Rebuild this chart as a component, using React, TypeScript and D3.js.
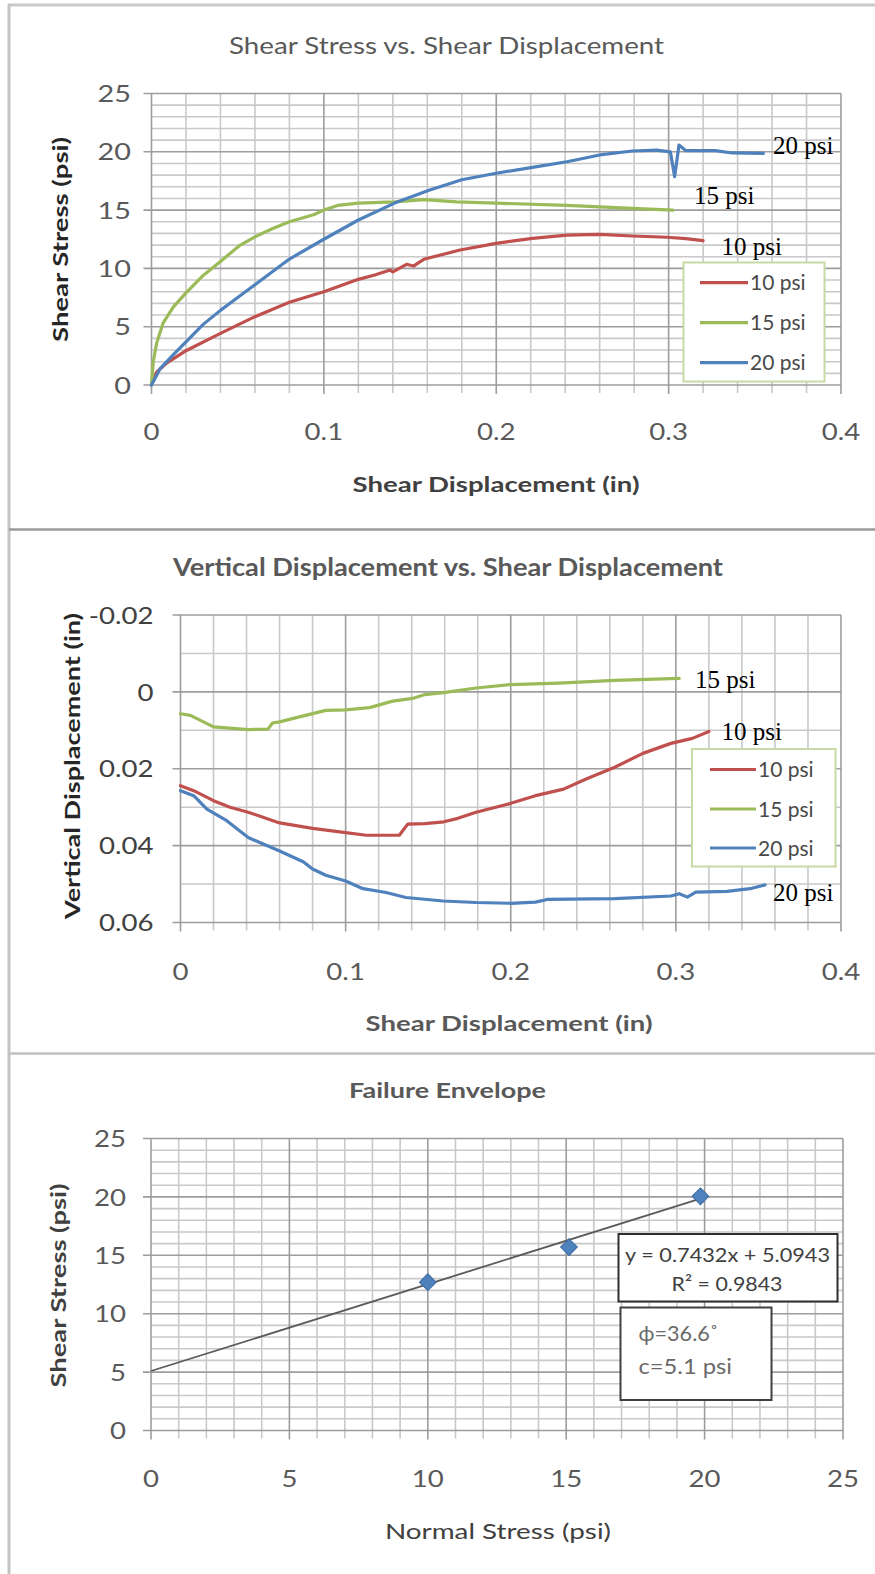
import React from 'react';
import * as d3 from 'd3';

// ---------- Panel 1: Shear Stress vs. Shear Displacement ----------
const shear10X = [0, 0.003, 0.009, 0.02, 0.04, 0.06, 0.08, 0.1, 0.12, 0.1295, 0.1385, 0.140, 0.148, 0.152, 0.155, 0.158, 0.179, 0.2, 0.221, 0.241, 0.26, 0.279, 0.299, 0.31, 0.32];
const shear10Y = [0, 1.1, 1.9, 2.94, 4.43, 5.86, 7.1, 8.0, 9.06, 9.43, 9.86, 9.7, 10.35, 10.2, 10.5, 10.78, 11.58, 12.15, 12.58, 12.86, 12.92, 12.78, 12.67, 12.55, 12.38];

const shear15X = [0, 0.001, 0.003, 0.0067, 0.0127, 0.02, 0.03, 0.04, 0.051, 0.06, 0.07, 0.08, 0.094, 0.1, 0.108, 0.12, 0.141, 0.158, 0.177, 0.2, 0.241, 0.279, 0.3025];
const shear15Y = [0, 2.0, 3.6, 5.3, 6.7, 7.9, 9.4, 10.6, 11.95, 12.7, 13.4, 14.0, 14.6, 15.0, 15.4, 15.6, 15.7, 15.9, 15.7, 15.6, 15.4, 15.15, 15.0];

const shear20X = [0, 0.005, 0.0127, 0.02, 0.03, 0.04, 0.05, 0.06, 0.08, 0.1, 0.12, 0.141, 0.161, 0.18, 0.2, 0.221, 0.241, 0.26, 0.279, 0.293, 0.301, 0.3035, 0.306, 0.31, 0.327, 0.337, 0.355];
const shear20Y = [0, 1.4, 2.6, 3.7, 5.2, 6.4, 7.5, 8.6, 10.8, 12.5, 14.15, 15.6, 16.7, 17.6, 18.16, 18.67, 19.15, 19.73, 20.07, 20.15, 20.0, 17.87, 20.58, 20.1, 20.1, 19.9, 19.87];

// ---------- Panel 2: Vertical Displacement vs. Shear Displacement ----------
const vert10X = [0, 0.008, 0.02, 0.03, 0.041, 0.06, 0.08, 0.1, 0.1125, 0.1325, 0.1376, 0.148, 0.1594, 0.168, 0.179, 0.2, 0.215, 0.232, 0.246, 0.263, 0.28, 0.297, 0.31, 0.32];
const vert10Y = [0.0244, 0.0257, 0.0283, 0.030, 0.0313, 0.0341, 0.0355, 0.0366, 0.0373, 0.0373, 0.0344, 0.0343, 0.0338, 0.0329, 0.0313, 0.029, 0.027, 0.0253, 0.0226, 0.0196, 0.016, 0.0134, 0.0121, 0.0103];

const vert15X = [0, 0.006, 0.02, 0.041, 0.053, 0.0557, 0.06, 0.072, 0.088, 0.1, 0.1145, 0.1285, 0.1405, 0.148, 0.1594, 0.179, 0.2, 0.229, 0.263, 0.302];
const vert15Y = [0.0057, 0.0061, 0.0091, 0.0098, 0.0097, 0.0081, 0.0078, 0.0065, 0.0048, 0.0047, 0.0041, 0.0024, 0.0017, 0.0007, 0.0002, -0.001, -0.0019, -0.0023, -0.003, -0.0035];

const vert20X = [0, 0.008, 0.016, 0.028, 0.041, 0.06, 0.0743, 0.08, 0.088, 0.1, 0.1105, 0.1245, 0.1365, 0.159, 0.179, 0.2, 0.215, 0.222, 0.263, 0.297, 0.302, 0.307, 0.312, 0.331, 0.345, 0.354];
const vert20Y = [0.0257, 0.027, 0.0305, 0.0335, 0.0379, 0.0414, 0.0442, 0.0461, 0.0477, 0.0492, 0.0512, 0.0522, 0.0535, 0.0544, 0.0548, 0.055, 0.0547, 0.054, 0.0538, 0.0531, 0.0525, 0.0534, 0.0521, 0.0519, 0.0512, 0.0502];

// ---------- Panel 3: Failure Envelope ----------
const failureNormal = [10, 15.1, 19.85];
const failureShear = [12.7, 15.7, 20.05];
const trendSlope = 0.7432;
const trendIntercept = 5.0943;
const trendXEnd = 19.85;

// ---------- Shared labels ----------
const seriesNames = ['10 psi', '15 psi', '20 psi'];
const seriesColors = ['#c0504d', '#9bbb59', '#4f81bd'];
const dispTicks = [0, 0.1, 0.2, 0.3, 0.4];
const dispTickLabels = ['0', '0.1', '0.2', '0.3', '0.4'];
const shearTicks = [0, 5, 10, 15, 20, 25];
const vertTicks = [-0.02, 0, 0.02, 0.04, 0.06];
const vertTickLabels = ['-0.02', '0', '0.02', '0.04', '0.06'];
const normalTicks = [0, 5, 10, 15, 20, 25];

const SANS = 'Lato, Carlito, Calibri, "Open Sans", sans-serif';
const SERIF = '"Liberation Serif", "Times New Roman", serif';

type TxtProps = {
  x: number; y: number; children: React.ReactNode; size?: number; weight?: number;
  fill?: string; anchor?: 'start' | 'middle' | 'end'; sx?: number; rotate?: number;
  len?: number; family?: string;
};
function Txt({ x, y, children, size = 22, weight = 400, fill = '#595959', anchor = 'middle', sx = 1, rotate = 0, len, family = SANS }: TxtProps) {
  let tr = `translate(${x},${y})`;
  if (rotate) tr += ` rotate(${rotate})`;
  if (sx !== 1) tr += ` scale(${sx},1)`;
  return (
    <text transform={tr} x={0} y={size * 0.36} textAnchor={anchor} fontSize={size} fontWeight={weight}
      fill={fill} fontFamily={family} textLength={len}
      lengthAdjust={len ? 'spacingAndGlyphs' : undefined}>{children}</text>
  );
}

function stepValues(lo: number, hi: number, step: number) {
  const n = Math.round((hi - lo) / step);
  return d3.range(n + 1).map(i => lo + i * step);
}
function isMultiple(v: number, step: number, origin: number) {
  const q = (v - origin) / step;
  return Math.abs(q - Math.round(q)) < 1e-6;
}

function Grid({ xs, ys, xMinor, xMajor, yMinor, yMajor, xOrigin, yOrigin }: any) {
  const [x0, x1] = xs.range();
  const [yb, yt] = ys.range();
  const xd = xs.domain();
  const yd = ys.domain();
  const vx = stepValues(xd[0], xd[1], xMinor);
  const hy = stepValues(yd[0], yd[1], yMinor);
  const top = Math.min(yb, yt), bot = Math.max(yb, yt);
  const minorC = '#c9c9c9', majorC = '#9d9d9d';
  return (
    <g>
      {hy.filter(v => !isMultiple(v, yMajor, yOrigin)).map((v, i) => (
        <line key={'hm' + i} x1={x0} x2={x1} y1={ys(v)} y2={ys(v)} stroke={minorC} strokeWidth={1.6} />
      ))}
      {vx.filter(v => !isMultiple(v, xMajor, xOrigin)).map((v, i) => (
        <line key={'vm' + i} x1={xs(v)} x2={xs(v)} y1={top} y2={bot + 8} stroke={minorC} strokeWidth={1.6} />
      ))}
      {hy.filter(v => isMultiple(v, yMajor, yOrigin)).map((v, i) => (
        <line key={'hM' + i} x1={x0 - 8} x2={x1} y1={ys(v)} y2={ys(v)} stroke={majorC} strokeWidth={1.6} />
      ))}
      {vx.filter(v => isMultiple(v, xMajor, xOrigin)).map((v, i) => (
        <line key={'vM' + i} x1={xs(v)} x2={xs(v)} y1={top} y2={bot + 9} stroke={majorC} strokeWidth={1.6} />
      ))}
    </g>
  );
}

function Series({ xs, ys, X, Y, color }: any) {
  const line = d3.line<number>().x((_, i) => xs(X[i])).y((_, i) => ys(Y[i]));
  return <path d={line(X) || ''} fill="none" stroke={color} strokeWidth={3.2} strokeLinejoin="round" strokeLinecap="round" />;
}

function Legend({ x, y, w, h, rowY, lineX0, lineX1, textX }: any) {
  return (
    <g>
      <rect x={x} y={y} width={w} height={h} fill="#fff" stroke="#c8daa3" strokeWidth={2} />
      {seriesNames.map((n, i) => (
        <g key={n}>
          <line x1={lineX0} x2={lineX1} y1={rowY[i]} y2={rowY[i]} stroke={seriesColors[i]} strokeWidth={3.2} />
          <Txt x={textX} y={rowY[i]} anchor="start" size={21} fill="#4a4a4a">{n}</Txt>
        </g>
      ))}
    </g>
  );
}

export default function App() {
  // Panel 1 scales
  const x1 = d3.scaleLinear().domain([0, 0.4]).range([151.5, 841]);
  const y1 = d3.scaleLinear().domain([0, 25]).range([385, 93.5]);
  // Panel 2 scales
  const x2 = d3.scaleLinear().domain([0, 0.4]).range([180.5, 841]);
  const y2 = d3.scaleLinear().domain([-0.02, 0.06]).range([615, 922.5]);
  // Panel 3 scales
  const x3 = d3.scaleLinear().domain([0, 25]).range([151, 843]);
  const y3 = d3.scaleLinear().domain([0, 25]).range([1430.5, 1138.5]);

  const diamond = d3.symbol().type(d3.symbolSquare).size(140)();

  return (
    <svg width={875} height={1574} style={{ position: 'absolute', left: 0, top: 0, background: '#fff' }}
      xmlns="http://www.w3.org/2000/svg">
      <rect x={0} y={0} width={875} height={1574} fill="#fff" />
      {/* frame */}
      <line x1={8} x2={875} y1={5} y2={5} stroke="#c9c9c9" strokeWidth={3} />
      <line x1={9} x2={9} y1={4} y2={1574} stroke="#c4c4c4" strokeWidth={3} />
      <line x1={9} x2={875} y1={529.5} y2={529.5} stroke="#9a9a9a" strokeWidth={2.5} />
      <line x1={9} x2={875} y1={1053.5} y2={1053.5} stroke="#c0c0c0" strokeWidth={2.5} />

      {/* ===== Panel 1 ===== */}
      <Txt x={446.5} y={45} size={24} fill="#595959" len={435}>Shear Stress vs. Shear Displacement</Txt>
      <Grid xs={x1} ys={y1} xMinor={0.02} xMajor={0.1} yMinor={1} yMajor={5} xOrigin={0} yOrigin={0} />
      {shearTicks.map(t => (
        <Txt key={t} x={131} y={y1(t)} anchor="end" size={24} sx={1.2} fill="#595959">{String(t)}</Txt>
      ))}
      {dispTicks.map((t, i) => (
        <Txt key={t} x={x1(t)} y={431.5} size={24} sx={1.15} fill="#595959">{dispTickLabels[i]}</Txt>
      ))}
      <Txt x={496} y={485} size={20} weight={700} fill="#404040" len={287}>Shear Displacement (in)</Txt>
      <Txt x={60} y={239.5} size={21} weight={700} fill="#262626" rotate={-90} len={205}>Shear Stress (psi)</Txt>
      <Series xs={x1} ys={y1} X={shear10X} Y={shear10Y} color={seriesColors[0]} />
      <Series xs={x1} ys={y1} X={shear15X} Y={shear15Y} color={seriesColors[1]} />
      <Series xs={x1} ys={y1} X={shear20X} Y={shear20Y} color={seriesColors[2]} />
      <Legend x={683.5} y={262.5} w={141} h={119} rowY={[282.7, 322.7, 362.7]} lineX0={700} lineX1={748} textX={750} />
      <text x={773} y={154} fontFamily={SERIF} fontSize={25} fill="#000">20 psi</text>
      <text x={694} y={204} fontFamily={SERIF} fontSize={25} fill="#000">15 psi</text>
      <text x={721.5} y={255} fontFamily={SERIF} fontSize={25} fill="#000">10 psi</text>

      {/* ===== Panel 2 ===== */}
      <Txt x={448} y={567} size={24} weight={700} fill="#595959" len={550}>Vertical Displacement vs. Shear Displacement</Txt>
      <Grid xs={x2} ys={y2} xMinor={0.02} xMajor={0.1} yMinor={0.01} yMajor={0.02} xOrigin={0} yOrigin={-0.02} />
      {vertTicks.map((t, i) => (
        <Txt key={t} x={153.5} y={y2(t)} anchor="end" size={24} sx={1.15} fill="#404040">{vertTickLabels[i]}</Txt>
      ))}
      {dispTicks.map((t, i) => (
        <Txt key={t} x={x2(t)} y={971} size={24} sx={1.15} fill="#595959">{dispTickLabels[i]}</Txt>
      ))}
      <Txt x={509} y={1023.5} size={20} weight={700} fill="#595959" len={287}>Shear Displacement (in)</Txt>
      <Txt x={72.5} y={766} size={21} weight={700} fill="#262626" rotate={-90} len={306}>Vertical Displacement (in)</Txt>
      <Series xs={x2} ys={y2} X={vert10X} Y={vert10Y} color={seriesColors[0]} />
      <Series xs={x2} ys={y2} X={vert15X} Y={vert15Y} color={seriesColors[1]} />
      <Series xs={x2} ys={y2} X={vert20X} Y={vert20Y} color={seriesColors[2]} />
      <Legend x={692} y={749} w={143.5} h={117.5} rowY={[769.5, 809, 848]} lineX0={710} lineX1={756} textX={758} />
      <text x={695} y={687.5} fontFamily={SERIF} fontSize={25} fill="#000">15 psi</text>
      <text x={721.5} y={740} fontFamily={SERIF} fontSize={25} fill="#000">10 psi</text>
      <text x={773} y={900.5} fontFamily={SERIF} fontSize={25} fill="#000">20 psi</text>

      {/* ===== Panel 3 ===== */}
      <Txt x={447.5} y={1090} size={21} weight={700} fill="#595959" len={197}>Failure Envelope</Txt>
      <Grid xs={x3} ys={y3} xMinor={1} xMajor={5} yMinor={1} yMajor={5} xOrigin={0} yOrigin={0} />
      {shearTicks.map(t => (
        <Txt key={t} x={126} y={y3(t)} anchor="end" size={24} sx={1.15} fill="#595959">{String(t)}</Txt>
      ))}
      {normalTicks.map(t => (
        <Txt key={t} x={x3(t)} y={1478} size={24} sx={1.15} fill="#595959">{String(t)}</Txt>
      ))}
      <Txt x={498} y={1531} size={22} weight={400} fill="#404040" len={226}>Normal Stress (psi)</Txt>
      <Txt x={58.6} y={1285.5} size={21} weight={700} fill="#404040" rotate={-90} len={204}>Shear Stress (psi)</Txt>
      <line x1={x3(0)} x2={x3(trendXEnd)} y1={y3(trendIntercept)} y2={y3(trendSlope * trendXEnd + trendIntercept)}
        stroke="#5a5a5a" strokeWidth={1.8} />
      {failureNormal.map((v, i) => (
        <path key={i} d={diamond} transform={`translate(${x3(v)},${y3(failureShear[i])}) rotate(45)`}
          fill="#4f81bd" stroke="#3d6aa3" strokeWidth={1} />
      ))}
      <rect x={618.5} y={1234} width={219} height={67.5} fill="#fff" stroke="#2e2e2e" strokeWidth={2} />
      <Txt x={727.5} y={1255} size={20} fill="#404040" len={205}>y = 0.7432x + 5.0943</Txt>
      <Txt x={727} y={1283.3} size={20} fill="#404040" len={111}>R² = 0.9843</Txt>
      <rect x={620.5} y={1307.5} width={151} height={92.5} fill="#fff" stroke="#404040" strokeWidth={2} />
      <Txt x={638.5} y={1333.5} size={21} anchor="start" fill="#6a6a6a" len={80}>ϕ=36.6˚</Txt>
      <Txt x={638.5} y={1366.7} size={21} anchor="start" fill="#6a6a6a" len={93.5}>c=5.1 psi</Txt>
    </svg>
  );
}
